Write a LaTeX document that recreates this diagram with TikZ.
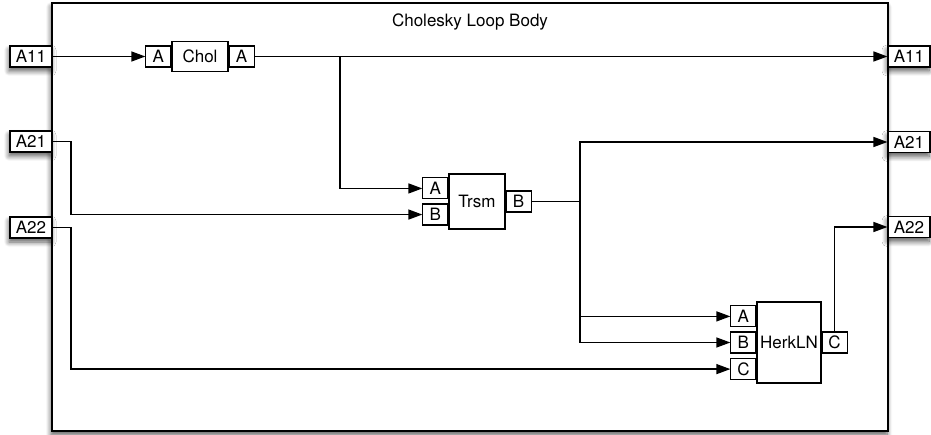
\documentclass[tikz,border=0pt]{standalone}
\usepackage{fontspec}
\setmainfont{TeX Gyre Heros}
\usetikzlibrary{positioning, arrows.meta, shadows.blur}

\begin{document}
\begin{tikzpicture}[
    x=1pt, y=-1pt,
    every node/.style={font=\fontsize{17}{20}\selectfont},
    shadowed/.style={blur shadow={shadow xshift=-1pt, shadow yshift=-4pt, shadow blur radius=5pt, shadow blur steps=8, shadow opacity=65}},
    frame/.style={draw=black, line width=1.8pt, fill=white, minimum width=836pt, minimum height=428pt, inner sep=0pt, shadowed},
    extport/.style={draw=black, line width=1.1pt, fill=white, minimum width=42pt, minimum height=21pt, inner sep=0pt, shadowed},
    port/.style={draw=black, line width=1.1pt, fill=white, minimum width=25pt, minimum height=21pt, inner sep=0pt},
    block/.style={draw=black, line width=1.1pt, fill=white, inner sep=0pt},
    wire/.style={line width=1.4pt},
    arrow/.style={wire, -{Triangle[length=14pt, width=10pt]}}
]
\useasboundingbox (0,0) rectangle (931,435);

% Knoten
\node[frame] (frame) at (470,217) {};
\node (title) at (470,22) {Cholesky Loop Body};

\node[extport] (inA11) at (31,56.5) {A11};
\node[extport] (inA21) at (31,141.5) {A21};
\node[extport] (inA22) at (31,227.5) {A22};
\node[extport] (outA11) at (909,56.5) {A11};
\node[extport] (outA21) at (909,142) {A21};
\node[extport] (outA22) at (909,227) {A22};

\node[block, minimum width=56pt, minimum height=30pt] (chol) at (200,56.5) {Chol};
\node[port, left=0pt of chol] (cholA) {A};
\node[port, right=0pt of chol] (cholAo) {A};

\node[block, minimum width=56pt, minimum height=55pt] (trsm) at (477,201.5) {Trsm};
\node[port, anchor=south east] (trsmA) at ([yshift=2pt]trsm.west) {A};
\node[port, anchor=north east] (trsmB) at ([yshift=-2pt]trsm.west) {B};
\node[port, right=0pt of trsm] (trsmBo) {B};

\node[block, minimum width=64pt, minimum height=81pt] (herk) at (789,342.5) {HerkLN};
\node[port, left=0pt of herk] (herkB) {B};
\node[port, above=4pt of herkB] (herkA) {A};
\node[port, below=4.5pt of herkB] (herkC) {C};
\node[port, right=0pt of herk] (herkCo) {C};

\coordinate (split1) at (340,56.5);
\coordinate (split2) at (580,201.5);
\coordinate (bend21) at (71,141.5);
\coordinate (bend22) at (71,227.5);

% Kanten zwischen Knoten
\draw[arrow] (inA11) -- (cholA);
\draw[arrow] (cholAo) -- (outA11);
\draw[arrow] (split1) |- (trsmA);
\draw[arrow] (inA21) -- (bend21) |- (trsmB);
\draw[arrow] (inA22) -- (bend22) |- (herkC);
\draw[wire] (trsmBo) -- (split2);
\draw[arrow] (split2) |- (outA21);
\draw[arrow] (split2) |- (herkA);
\draw[arrow] (split2) |- (herkB);
\draw[arrow] (herkCo.north) |- (outA22);

\end{tikzpicture}
\end{document}
